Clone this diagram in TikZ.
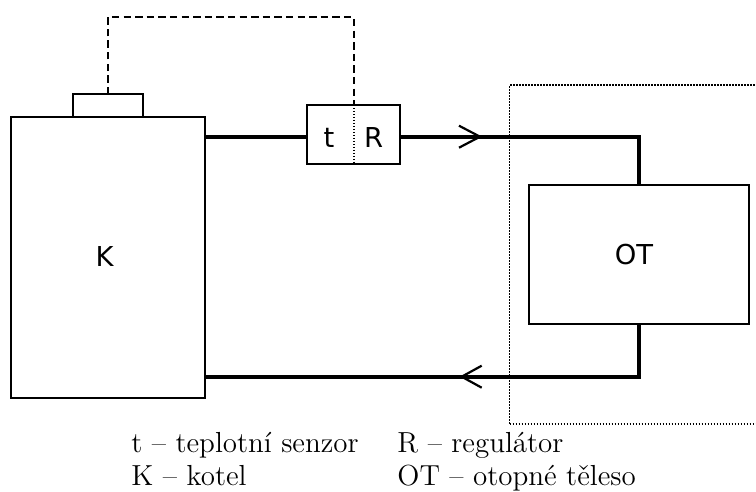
\documentclass[tikz,border=0pt]{standalone}
\usepackage{fontspec}
\newfontfamily\labelfont{DejaVu Sans}
\begin{document}
\begin{tikzpicture}[x=0.5pt,y=-0.5pt,
  box/.style={draw,line width=1pt,inner sep=0pt,outer sep=0pt},
  tag/.style={inner sep=0pt,font=\labelfont\fontsize{13.7}{16}\selectfont},
  pipe/.style={line width=2.1pt},
  barb/.style={line width=1.1pt},
  signal/.style={line width=1pt,dash pattern=on 3.7pt off 2.1pt},
  probe/.style={line width=1pt,dash pattern=on 0.75pt off 0.75pt},
  zone/.style={draw,line width=0.9pt,dash pattern=on 0.75pt off 0.75pt,inner sep=0pt,outer sep=0pt},
  legend/.style={anchor=base west,inner sep=0pt,font=\fontsize{14.5}{17}\selectfont}]
\useasboundingbox (0,0) rectangle (756,492);

% heated zone around the radiator
\node[zone,minimum width=126.5pt,minimum height=169.5pt] (zone) at (636,254.5) {};

% boiler with its sensor cap
\node[box,minimum width=97pt,minimum height=140pt] (K) at (108,257.5) {};
\node[tag] (klabel) at (104.5,257) {K};
\node[box,minimum width=35.3pt,minimum height=11.5pt] (cap) at (108,105.8) {};

% thermostat: sensor t and regulator R
\node[box,minimum width=46.5pt,minimum height=29.7pt] (tR) at (353.5,134.7) {};
\node[tag] (tlabel) at (329,137.5) {t};
\node[tag] (rlabel) at (373.7,137.5) {R};

% radiator
\node[box,minimum width=110pt,minimum height=69.7pt] (OT) at (639,254.7) {};
\node[tag] (otlabel) at (634,255) {OT};

% helper levels
\coordinate (sup) at (0,136.7);
\coordinate (ret) at (0,376.7);
\coordinate (wire) at (0,17);

% supply and return pipes
\draw[pipe] (K.east |- sup) -- (tR.west |- sup);
\draw[pipe] (tR.east |- sup) -| (OT.north);
\draw[pipe] (OT.south) |- (K.east |- ret);

% flow direction marks
\coordinate (f1) at (480,136.7);
\coordinate (f2) at (461.7,376.7);
\draw[barb] ([shift={(-21,-11)}]f1) -- (f1) -- ([shift={(-21,11)}]f1);
\draw[barb] ([shift={(20,-11)}]f2) -- (f2) -- ([shift={(20,11)}]f2);

% signal wire from sensor cap to the thermostat
\draw[signal] (cap.north) -- (cap.north |- wire) -| (tR.north);
\draw[probe] (tR.north) -- (tR.south);

% legend
\node[legend] (l1) at (131,452) {t – teplotní senzor};
\node[legend] (l2) at (397,452) {R – regulátor};
\node[legend] (l3) at (131,485) {K – kotel};
\node[legend] (l4) at (397,485) {OT – otopné těleso};
\end{tikzpicture}
\end{document}
